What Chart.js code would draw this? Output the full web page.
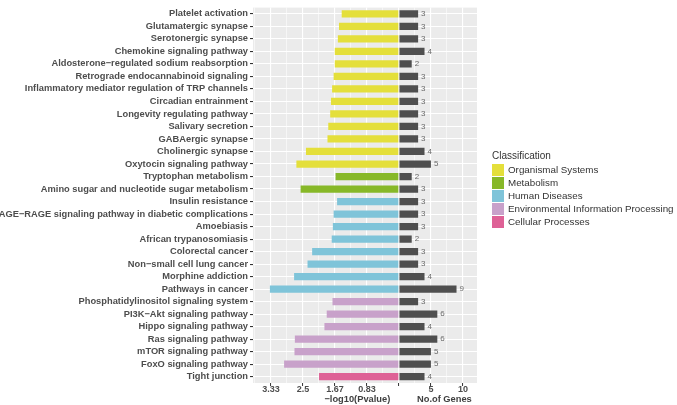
<!DOCTYPE html>
<html>
<head>
<meta charset="utf-8">
<script src="https://cdn.jsdelivr.net/npm/chart.js@4.4.0/dist/chart.umd.min.js"></script>
<style>
    html, body { margin: 0; padding: 0; background: #ffffff; }
    #wrap { position: relative; width: 677px; height: 405px; }
    #legend {
        position: absolute;
        left: 492px;
        top: 150px;
        font-family: "Liberation Sans", Arial, sans-serif;
        color: #333333;
    }
    #legend .title { font-size: 10px; line-height: 12px; margin-bottom: 2px; }
    #legend .row { display: flex; align-items: flex-start; height: 13px; }
    #legend .swatch { width: 12px; height: 12px; }
    #legend .label { font-size: 9.8px; line-height: 12px; margin-left: 4px; white-space: nowrap; }
</style>
</head>
<body>
<div id="wrap">
    <canvas id="enrichChart" width="677" height="405"></canvas>
    <div id="legend"></div>
</div>
<script>
// Pathways, top to bottom
const pathways = [
    'Platelet activation',
    'Glutamatergic synapse',
    'Serotonergic synapse',
    'Chemokine signaling pathway',
    'Aldosterone\u2212regulated sodium reabsorption',
    'Retrograde endocannabinoid signaling',
    'Inflammatory mediator regulation of TRP channels',
    'Circadian entrainment',
    'Longevity regulating pathway',
    'Salivary secretion',
    'GABAergic synapse',
    'Cholinergic synapse',
    'Oxytocin signaling pathway',
    'Tryptophan metabolism',
    'Amino sugar and nucleotide sugar metabolism',
    'Insulin resistance',
    'AGE\u2212RAGE signaling pathway in diabetic complications',
    'Amoebiasis',
    'African trypanosomiasis',
    'Colorectal cancer',
    'Non\u2212small cell lung cancer',
    'Morphine addiction',
    'Pathways in cancer',
    'Phosphatidylinositol signaling system',
    'PI3K\u2212Akt signaling pathway',
    'Hippo signaling pathway',
    'Ras signaling pathway',
    'mTOR signaling pathway',
    'FoxO signaling pathway',
    'Tight junction'
];

// -log10(Pvalue) per pathway
const negLogP = [
    1.49, 1.56, 1.59, 1.67, 1.67, 1.70, 1.74, 1.77, 1.79, 1.84,
    1.86, 2.42, 2.67, 1.65, 2.56, 1.61, 1.70, 1.72, 1.75, 2.26,
    2.38, 2.73, 3.36, 1.73, 1.88, 1.94, 2.71, 2.72, 2.99, 2.08
];

// No. of genes per pathway
const geneCounts = [
    3, 3, 3, 4, 2, 3, 3, 3, 3, 3,
    3, 4, 5, 2, 3, 3, 3, 3, 2, 3,
    3, 4, 9, 3, 6, 4, 6, 5, 5, 4
];

// Classification index per pathway
const pathwayClass = [
    0, 0, 0, 0, 0, 0, 0, 0, 0, 0,
    0, 0, 0, 1, 1, 2, 2, 2, 2, 2,
    2, 2, 2, 3, 3, 3, 3, 3, 3, 4
];

const classNames = [
    'Organismal Systems',
    'Metabolism',
    'Human Diseases',
    'Environmental Information Processing',
    'Cellular Processes'
];
const classColors = ['#e4df3b', '#87b828', '#7fc4d9', '#c8a1ca', '#de6196'];

// shared axis: genes on the right, -log10(P) * pScale on the left
const pScale = 6;
const xBreaks = [-20, -15, -10, -5, 0, 5, 10];
const xBreakLabels = ['3.33', '2.5', '1.67', '0.83', '', '5', '10'];
const xMinorBreaks = [-22.5, -17.5, -12.5, -7.5, -2.5, 2.5, 7.5];

const FONT = '"Liberation Sans", Arial, sans-serif';

// grey panel behind the grid
const panelBackground = {
    id: 'panelBackground',
    beforeDraw(chart) {
        const { ctx, chartArea: a } = chart;
        ctx.save();
        ctx.fillStyle = '#ebebeb';
        ctx.fillRect(a.left, a.top, a.right - a.left, a.bottom - a.top);
        ctx.restore();
    }
};

// gene count next to each dark bar
const geneLabels = {
    id: 'geneLabels',
    afterDatasetsDraw(chart) {
        const { ctx } = chart;
        const meta = chart.getDatasetMeta(1);
        ctx.save();
        ctx.font = '8px ' + FONT;
        ctx.fillStyle = '#6b6b6b';
        ctx.textAlign = 'left';
        ctx.textBaseline = 'middle';
        meta.data.forEach((bar, i) => {
            ctx.fillText(String(geneCounts[i]), bar.x + 3, bar.y);
        });
        ctx.restore();
    }
};

// the two axis titles under the panel
const axisTitles = {
    id: 'axisTitles',
    afterDraw(chart) {
        const { ctx } = chart;
        const x = chart.scales.x;
        ctx.save();
        ctx.font = 'bold 9.3px ' + FONT;
        ctx.fillStyle = '#404040';
        ctx.textAlign = 'center';
        ctx.textBaseline = 'alphabetic';
        ctx.fillText('\u2212log10(Pvalue)', x.getPixelForValue(-6.5), 402);
        ctx.fillText('No.of Genes', x.getPixelForValue(7.1), 402);
        ctx.restore();
    }
};

function buildLegend() {
    const box = document.getElementById('legend');
    let html = '<div class="title">Classification</div>';
    classNames.forEach((name, i) => {
        html += '<div class="row"><div class="swatch" style="background:' + classColors[i] + '"></div>' +
                '<div class="label">' + name + '</div></div>';
    });
    box.innerHTML = html;
}

function initializeEnrichChart() {
    const ctx = document.getElementById('enrichChart').getContext('2d');

    new Chart(ctx, {
        type: 'bar',
        data: {
            labels: pathways,
            datasets: [{
                data: negLogP.map(v => -v * pScale),
                backgroundColor: pathwayClass.map(c => classColors[c]),
                borderWidth: 0
            }, {
                data: geneCounts,
                backgroundColor: '#4f4f4f',
                borderWidth: 0
            }]
        },
        options: {
            indexAxis: 'y',
            responsive: false,
            animation: false,
            layout: {
                padding: { left: 0, right: 200, top: 0, bottom: 0 }
            },
            datasets: {
                bar: {
                    categoryPercentage: 1,
                    barPercentage: 0.58
                }
            },
            scales: {
                x: {
                    stacked: true,
                    min: -22.8,
                    max: 12.2,
                    border: { display: false },
                    afterBuildTicks: scale => {
                        scale.ticks = xMinorBreaks.concat(xBreaks)
                            .sort((a, b) => a - b)
                            .map(v => ({ value: v }));
                    },
                    afterFit: scale => { scale.height = 22; },
                    grid: {
                        color: '#ffffff',
                        lineWidth: c => xBreaks.includes(c.tick.value) ? 1.1 : 0.55,
                        tickColor: c => xBreaks.includes(c.tick.value) ? '#333333' : 'rgba(0,0,0,0)',
                        tickLength: 3,
                        tickWidth: 1
                    },
                    ticks: {
                        autoSkip: false,
                        maxRotation: 0,
                        padding: -2,
                        color: '#4d4d4d',
                        font: { family: FONT, size: 9, weight: 'bold' },
                        callback: value => {
                            const i = xBreaks.indexOf(value);
                            return i >= 0 ? xBreakLabels[i] : '';
                        }
                    }
                },
                y: {
                    stacked: true,
                    border: { display: false },
                    afterFit: scale => { scale.width = 253; },
                    grid: {
                        offset: false,
                        color: '#ffffff',
                        lineWidth: 1.1,
                        tickColor: '#333333',
                        tickLength: 3
                    },
                    ticks: {
                        autoSkip: false,
                        padding: 2,
                        color: '#4d4d4d',
                        font: { family: FONT, size: 9.3, weight: 'bold' }
                    }
                }
            },
            plugins: {
                legend: { display: false },
                tooltip: { enabled: false }
            }
        },
        plugins: [panelBackground, geneLabels, axisTitles]
    });
}

document.addEventListener('DOMContentLoaded', function() {
    buildLegend();
    initializeEnrichChart();
});
</script>
</body>
</html>
